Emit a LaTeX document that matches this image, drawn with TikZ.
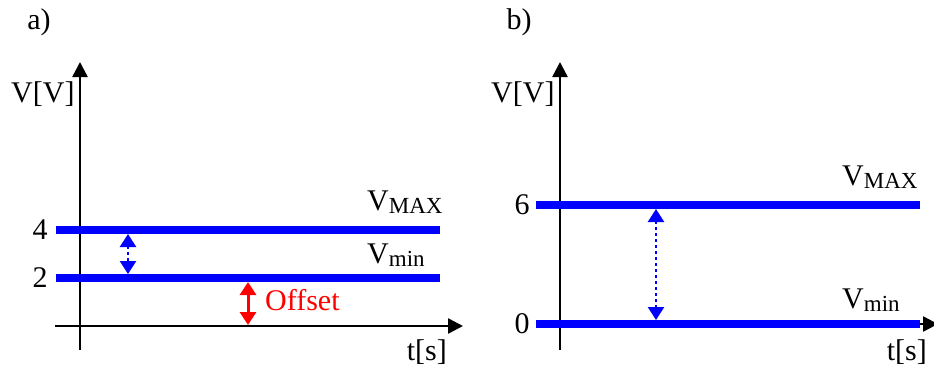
\documentclass[tikz,border=0pt]{standalone}
\usepackage{fontspec}
\setmainfont{Liberation Serif}
\usetikzlibrary{arrows.meta}
\newcommand{\lowsub}[1]{{\fontsize{23}{23}\selectfont\raisebox{-3.5pt}{#1}}}
\begin{document}
\begin{tikzpicture}[x=1pt,y=-1pt,
  txt/.style={inner sep=0pt,font=\fontsize{30}{32}\selectfont},
  axis/.style={line width=2.5pt,-{Triangle[length=15pt,width=15pt]}},
  level/.style={line width=8pt,blue},
  span/.style={line width=2.5pt,blue,dash pattern=on 2.5pt off 3.5pt,{Triangle[length=13pt,width=16pt]}-{Triangle[length=13pt,width=16pt]}},
  offs/.style={line width=3pt,red,{Triangle[length=13pt,width=16pt]}-{Triangle[length=13pt,width=16pt]}}]
\useasboundingbox (0,0) rectangle (934,365);
% ---------- panel a
\coordinate (ay0) at (80,350); \coordinate (ay1) at (80,62);
\coordinate (ax0) at (55,326); \coordinate (ax1) at (463,326);
\draw[axis] (ay0) -- (ay1);
\draw[axis] (ax0) -- (ax1);
\coordinate (a4l) at (56,230); \coordinate (a4r) at (440,230);
\coordinate (a2l) at (56,278); \coordinate (a2r) at (440,278);
\draw[level] (a4l) -- (a4r);
\draw[level] (a2l) -- (a2r);
\coordinate (as0) at (128,234); \coordinate (as1) at (128,274);
\draw[span] (as0) -- (as1);
\coordinate (ao0) at (248,282); \coordinate (ao1) at (248,325);
\draw[offs] (ao0) -- (ao1);
\node[txt] (alab) at (39,22) {a)};
\node[txt,anchor=base west] (avv) at (11,102) {V[V]};
\node[txt] (a4) at (40,230) {4};
\node[txt] (a2) at (40,278) {2};
\node[txt,anchor=base west] (amax) at (367,210) {V\lowsub{MAX}};
\node[txt,anchor=base west] (amin) at (367,263) {V\lowsub{min}};
\node[txt,anchor=base west,red] (aoff) at (265,310) {Offset};
\node[txt,anchor=base east] (ats) at (447,360) {t[s]};
% ---------- panel b
\coordinate (by0) at (560,350); \coordinate (by1) at (560,62);
\coordinate (bx0) at (536,324); \coordinate (bx1) at (938,324);
\draw[axis] (by0) -- (by1);
\draw[axis] (bx0) -- (bx1);
\coordinate (b6l) at (536,205); \coordinate (b6r) at (920,205);
\coordinate (b0l) at (536,324); \coordinate (b0r) at (920,324);
\draw[level] (b6l) -- (b6r);
\draw[level] (b0l) -- (b0r);
\coordinate (bs0) at (656,209); \coordinate (bs1) at (656,320);
\draw[span] (bs0) -- (bs1);
\node[txt] (blab) at (519,22) {b)};
\node[txt,anchor=base west] (bvv) at (491,102) {V[V]};
\node[txt] (b6) at (522,205) {6};
\node[txt] (b0) at (522,324) {0};
\node[txt,anchor=base west] (bmax) at (842,185) {V\lowsub{MAX}};
\node[txt,anchor=base west] (bmin) at (842,308) {V\lowsub{min}};
\node[txt,anchor=base east] (bts) at (927,360) {t[s]};
\end{tikzpicture}
\end{document}
